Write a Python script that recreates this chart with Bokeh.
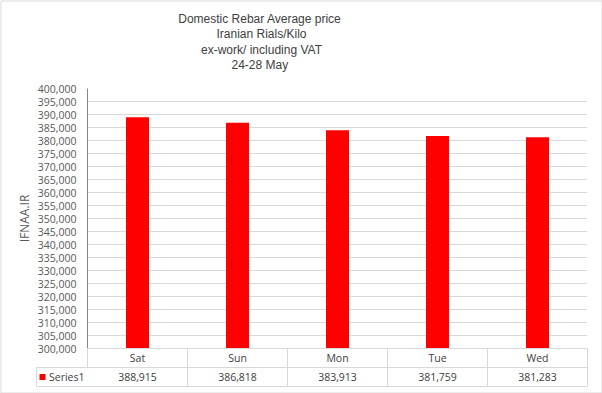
from bokeh.plotting import figure
from bokeh.models import Range1d, FixedTicker, NumeralTickFormatter, ColumnDataSource
from bokeh.core.properties import value
from bokeh.embed import file_html
from bokeh.resources import INLINE

# ---- data ----
days = ["Sat", "Sun", "Mon", "Tue", "Wed"]
prices = [388915, 386818, 383913, 381759, 381283]
series_name = "Series1"
title_lines = ["Domestic Rebar Average  price", "Iranian Rials/Kilo",
               "ex-work/ including VAT", "24-28  May"]
y_label = "IFNAA.IR"
y_min, y_max, y_step = 300000, 400000, 5000

# ---- layout ----
W, H = 602, 393
L, R, T, B = 87, 15, 88, 45
FW = W - L - R
FH = H - T - B
n = len(days)
ux = FW / n
uy = FH / (y_max - y_min)


def X(px):
    return (px - L) / ux


def Y(py):
    return y_min + (T + FH - py) / uy


TEXT = "#404040"
TICK = "#595959"
GRID = "#D9D9D9"
FONT = "Open Sans"
FS = "10.5px"

p = figure(width=W, height=H, output_backend="svg", toolbar_location=None,
           x_range=Range1d(0, n), y_range=Range1d(y_min, y_max),
           x_axis_location=None, min_border_left=L, min_border_right=R,
           min_border_top=T, min_border_bottom=B)
p.outline_line_color = None
p.background_fill_color = "white"
p.border_fill_color = "white"
p.xgrid.visible = False

ticks = list(range(y_min, y_max + 1, y_step))
p.yaxis.ticker = FixedTicker(ticks=ticks)
p.ygrid.ticker = FixedTicker(ticks=ticks)
p.ygrid.grid_line_color = GRID
p.yaxis.formatter = NumeralTickFormatter(format="0,0")
p.yaxis.axis_line_color = "#868686"
p.yaxis.major_tick_line_color = None
p.yaxis.minor_tick_line_color = None
p.yaxis.major_tick_out = 0
p.yaxis.major_label_standoff = 11
p.yaxis.major_label_text_font = FONT
p.yaxis.major_label_text_font_size = FS
p.yaxis.major_label_text_color = TICK
p.yaxis.axis_label = y_label
p.yaxis.axis_label_text_font = FONT
p.yaxis.axis_label_text_font_size = "12px"
p.yaxis.axis_label_text_font_style = "normal"
p.yaxis.axis_label_text_color = TICK
p.yaxis.axis_label_standoff = 2

# bars
xs = [i + 0.5 for i in range(n)]
src = ColumnDataSource(dict(x=xs, top=prices, day=days,
                            lab=[f"{v:,}" for v in prices]))
p.vbar(x="x", top="top", bottom=y_min, width=0.23, source=src,
       fill_color="#FF0000", line_color=None)

# data table
r1 = Y(T + FH + 19)
r2 = Y(T + FH + 38)
left = X(36)
seg_x0 = [0, left, left, left, n] + [float(i) for i in range(1, n)] + [0]
seg_x1 = [n, n, n, left, n] + [float(i) for i in range(1, n)] + [0]
seg_y0 = [y_min, r1, r2, r1, y_min] + [y_min] * (n - 1) + [y_min]
seg_y1 = [y_min, r1, r2, r2, r2] + [r2] * (n - 1) + [r1]
p.segment(x0=seg_x0, y0=seg_y0, x1=seg_x1, y1=seg_y1,
          line_color=GRID, line_width=1, level="overlay")
p.text(x="x", y=(y_min + r1) / 2, text="day", source=src,
       text_align="center", text_baseline="middle",
       text_font=value(FONT), text_font_size=FS, text_color=TEXT,
       level="overlay")
p.text(x="x", y=(r1 + r2) / 2, text="lab", source=src,
       text_align="center", text_baseline="middle",
       text_font=value(FONT), text_font_size=FS, text_color=TEXT,
       level="overlay")
p.rect(x=[X(42)], y=[(r1 + r2) / 2], width=6, height=6,
       width_units="screen", height_units="screen",
       fill_color="#FF0000", line_color=None, level="overlay")
p.text(x=[X(48.5)], y=[(r1 + r2) / 2], text=[series_name],
       text_align="left", text_baseline="middle",
       text_font=value(FONT), text_font_size=FS, text_color=TEXT,
       level="overlay")

# title
tys = [18, 33.5, 49, 64.5]
p.text(x=[X(261)] * len(title_lines), y=[Y(t) for t in tys], text=title_lines,
       text_align="center", text_baseline="middle",
       text_font=value("Liberation Sans"), text_font_size="12px",
       text_color=TEXT, level="overlay")

# chart border
p.quad(left=[X(0.5)], right=[X(W - 0.5)], top=[Y(0.5)], bottom=[Y(H - 0.5)],
       fill_color=None, line_color=GRID, level="overlay")

open("out.html", "w").write(file_html(p, INLINE))
